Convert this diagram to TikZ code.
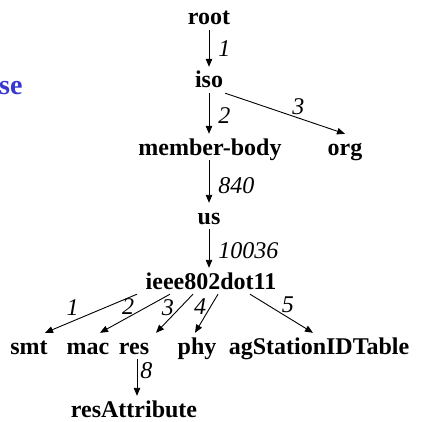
\documentclass[tikz,border=0pt]{standalone}
\usepackage{fontspec}
\setmainfont{Liberation Serif}
\usetikzlibrary{arrows.meta}

\definecolor{titleblue}{RGB}{55,55,210}

\begin{document}
\begin{tikzpicture}[x=1pt, y=1pt,
    oid/.style={font=\fontsize{24}{28}\selectfont\bfseries, anchor=base, inner xsep=2pt, inner ysep=4pt, text height=17pt, text depth=1pt},
    link/.style={line width=0.9pt, -{Triangle[length=8pt, width=6.5pt]}},
    num/.style={font=\fontsize{24}{28}\selectfont\itshape, inner sep=1pt}]

    \useasboundingbox (0, 0) rectangle (421, -422);

    \node[font=\fontsize{28}{32}\selectfont\bfseries, text=titleblue, anchor=base west, inner sep=0pt] (title) at (-1, -95) {se};

    % object identifier tree
    \node[oid] (root) at (209, -25) {root};
    \node[oid] (iso) at (209, -88) {iso};
    \node[oid] (member) at (210, -155) {member-body};
    \node[oid] (org) at (345, -155) {org};
    \node[oid] (us) at (209, -224) {us};
    \node[oid] (ieee) at (211, -289) {ieee802dot11};

    \node[oid] (smt) at (29, -354) {smt};
    \node[oid] (mac) at (88, -354) {mac};
    \node[oid] (res) at (134, -354) {res};
    \node[oid] (phy) at (197, -354) {phy};
    \node[oid] (agtable) at (319, -354) {agStationIDTable};
    \node[oid] (resattr) at (134, -417) {resAttribute};

    \draw[link] (root) -- node[num, right=8pt] {1} (iso);
    \draw[link] (iso) -- node[num, right=8pt, pos=0.56] {2} (iso |- member.north);
    \draw[link] (iso.south east) -- node[num, pos=0.61, above=2pt] {3} (org.north);
    \draw[link] (iso |- member.south) -- node[num, right=8pt, pos=0.6] {840} (us);
    \draw[link] (us) -- node[num, right=8pt, pos=0.56] {10036} (us |- ieee.north);

    \draw[link] ([xshift=-74pt]ieee.south) -- node[num, pos=0.7, above=4pt] {1} ([xshift=16pt]smt.north);
    \draw[link] ([xshift=-41pt]ieee.south) -- node[num, pos=0.6, above=1pt] {2} ([xshift=12pt]mac.north);
    \draw[link] ([xshift=-18pt]ieee.south) -- node[num, pos=0.34, left=5pt] {3} ([xshift=22pt]res.north);
    \draw[link] ([xshift=7pt]ieee.south) -- node[num, pos=0.32, left=3pt] {4} ([xshift=-2pt]phy.north);
    \draw[link] ([xshift=39pt]ieee.south) -- node[num, pos=0.6, above=3pt] {5} ([xshift=-6pt]agtable.north);

    \draw[link] ([xshift=3pt]res.south) -- node[num, right=2pt, pos=0.32] {8} ([xshift=3pt]resattr.north);

\end{tikzpicture}
\end{document}
